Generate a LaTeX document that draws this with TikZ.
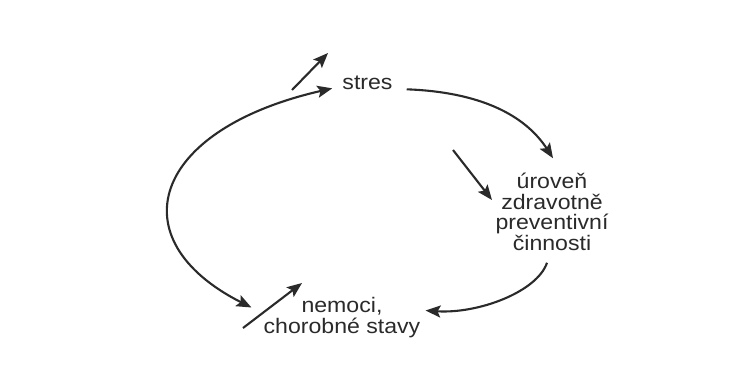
\documentclass[tikz,border=0pt]{standalone}
\usepackage{fontspec}
\setmainfont[FakeStretch=1.1]{Liberation Sans}
\usetikzlibrary{arrows.meta}
\definecolor{ink}{HTML}{2A2A2A}
\begin{document}
\begin{tikzpicture}[x=1pt,y=-1pt,
  lbl/.style={font=\fontsize{21}{20.5}\selectfont, text=ink, inner sep=2pt, align=center},
  conn/.style={draw=ink, line width=2.1pt, -{Stealth[length=15pt,width=12pt,inset=3pt]}},
  conn2/.style={draw=ink, line width=2.1pt, {Stealth[length=15pt,width=12pt,inset=3pt]}-{Stealth[length=15pt,width=12pt,inset=3pt]}}]
\useasboundingbox[fill=white] (0,0) rectangle (752,376);

\node[lbl, anchor=base] (stres) at (367.5,89) {stres};
\node[lbl] (urov) at (552,212) {úroveň\\zdravotně\\preventivní\\činnosti};
\node[lbl] (nem) at (342,317.5) {nemoci,\\chorobné stavy};

% cycle connectors
\draw[conn] ([shift={(12,7)}]stres.east) .. controls (480,92) and (525,115) .. ([shift={(1,-13)}]urov.north);
\draw[conn] ([shift={(-5,10)}]urov.south) .. controls (537,292) and (478,314) .. ([shift={(3,-7)}]nem.east);
\draw[conn2] ([shift={(-10,-10)}]nem.west) .. controls (118,240) and (150,130) .. ([shift={(-8,6)}]stres.west);

% trend arrows
\coordinate (s1) at (292,90);  \coordinate (s2) at (328,53);
\coordinate (u1) at (453,150); \coordinate (u2) at (492,200);
\coordinate (n1) at (243,328); \coordinate (n2) at (302,283);
\draw[conn] (s1) -- (s2);
\draw[conn] (u1) -- (u2);
\draw[conn] (n1) -- (n2);
\end{tikzpicture}
\end{document}
